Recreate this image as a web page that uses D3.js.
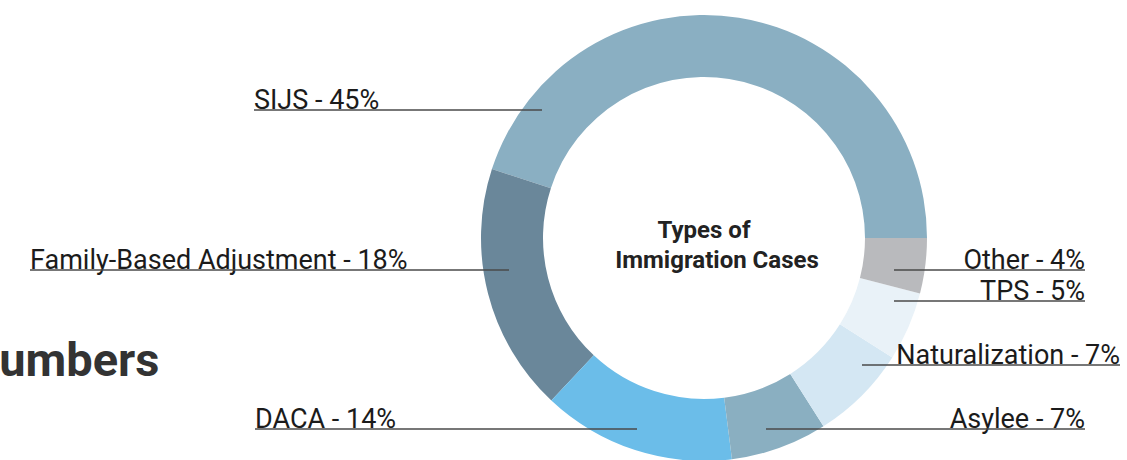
<!DOCTYPE html>
<html>
<head>
<meta charset="utf-8">
<script src="https://cdn.jsdelivr.net/npm/d3@7"></script>
<style>
  body { margin: 0; background: #fff; }
  svg { display: block; }
  .lbl { font-family: Roboto, "Liberation Sans", sans-serif; font-size: 27px; fill: #1b1b1b; }
  .ctr { font-family: Roboto, "Liberation Sans", sans-serif; font-size: 24px; font-weight: 700; fill: #222; }
  .big { font-family: Roboto, "Liberation Sans", sans-serif; font-size: 47px; font-weight: 700; fill: #333; }
</style>
</head>
<body>
<svg id="chart" width="1127" height="460"></svg>
<script>
//---- Data ----------------------------------------------------------------------
var categories = ["SIJS", "Family-Based Adjustment", "DACA", "Asylee", "Naturalization", "TPS", "Other"];
var shares = [45, 18, 14, 7, 7, 5, 4];
var colours = ["#8aafc2", "#6a879a", "#6bbde9", "#8aafc1", "#d4e7f3", "#e9f2f8", "#b9babd"];

// label layout (annotation placement, not data)
var labelAnchor = ["start", "start", "start", "end", "end", "end", "end"];
var labelX = [254, 30, 255, 1085, 1120, 1085, 1085];
var lineY = [110, 270, 429, 429, 365, 301, 270];
var lineTo = [542, 509, 637, 766, 862, 894, 894];

//---- Donut ---------------------------------------------------------------------
var svg = d3.select("#chart");
var cx = 704, cy = 238;

var pie = d3.pie()
  .sort(null)
  .value(function (d) { return d; })
  .startAngle(Math.PI / 2)
  .endAngle(Math.PI / 2 - 2 * Math.PI);   // counter-clockwise from 3 o'clock

var arc = d3.arc().innerRadius(161).outerRadius(223);

// heading of the neighbouring panel, cut by the left edge as in the source
svg.append("text")
  .attr("class", "big")
  .attr("x", -34)
  .attr("y", 376)
  .text("Numbers");

var g = svg.append("g").attr("transform", "translate(" + cx + "," + cy + ")");
g.selectAll("path")
  .data(pie(shares))
  .enter()
  .append("path")
  .attr("d", arc)
  .attr("fill", function (d, i) { return colours[i]; });

g.append("text").attr("class", "ctr").attr("text-anchor", "middle")
  .attr("x", 0).attr("y", 0).text("Types of");
g.append("text").attr("class", "ctr").attr("text-anchor", "middle")
  .attr("x", 13).attr("y", 30).text("Immigration Cases");

//---- Labels --------------------------------------------------------------------
var labels = svg.append("g");
categories.forEach(function (c, i) {
  labels.append("text")
    .attr("class", "lbl")
    .attr("text-anchor", labelAnchor[i])
    .attr("x", labelX[i])
    .attr("y", lineY[i] - 1)
    .text(c + " - " + shares[i] + "%");
  labels.append("line")
    .attr("x1", labelX[i]).attr("x2", lineTo[i])
    .attr("y1", lineY[i]).attr("y2", lineY[i])
    .attr("stroke", "#4a4a4a")
    .attr("stroke-width", 1.6);
});
</script>
</body>
</html>
